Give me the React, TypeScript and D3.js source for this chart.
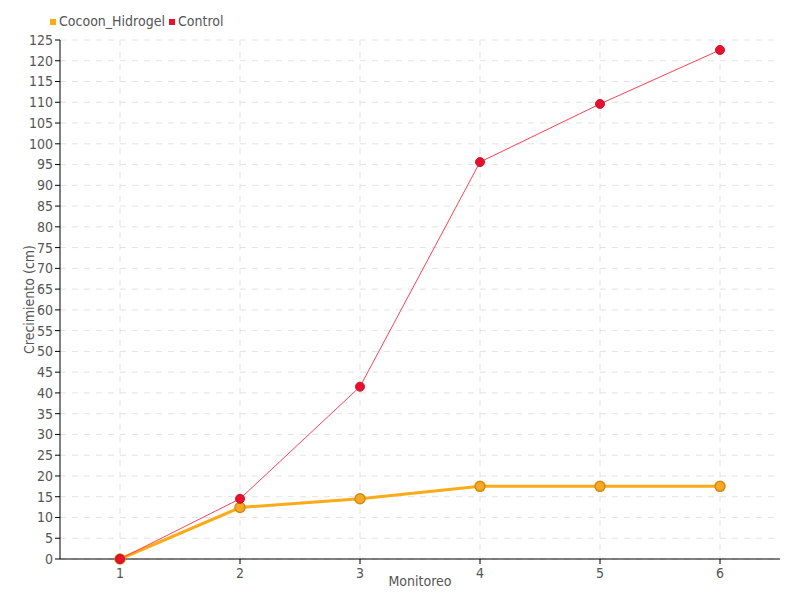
import React from "react";
import * as d3 from "d3";

const categories = [1, 2, 3, 4, 5, 6];
const hidrogel = [0, 12.4, 14.5, 17.5, 17.5, 17.5];
const control = [0, 14.5, 41.5, 95.6, 109.6, 122.6];
const yTicks = d3.range(0, 126, 5);
const seriesNames = ["Cocoon_Hidrogel", "Control"];

const W = 800, H = 600;
const m = { left: 60, right: 20, top: 40, bottom: 41 };
const FONT = "'Liberation Sans Narrow', 'DejaVu Sans Condensed', 'Roboto', sans-serif";

export default function App() {
  const x = d3.scaleLinear().domain([0.5, 6.5]).range([m.left, W - m.right]);
  const y = d3.scaleLinear().domain([0, 125]).range([H - m.bottom, m.top]);
  const line = d3.line<number>().x((_, i) => x(categories[i])).y((d) => y(d));
  const orange = "#fbab18";
  const red = "#e8112d";
  return (
    <svg width={W} height={H} style={{ position: "absolute", left: 0, top: 0, fontFamily: FONT }}>
      <rect width={W} height={H} fill="#fff" />
      {yTicks.map((t) => (
        <line key={"gy" + t} x1={m.left} x2={W - m.right} y1={y(t)} y2={y(t)} stroke="#e2e2e2" strokeDasharray="6,6" />
      ))}
      {categories.map((c) => (
        <line key={"gx" + c} x1={x(c)} x2={x(c)} y1={m.top} y2={H - m.bottom} stroke="#e2e2e2" strokeDasharray="6,6" />
      ))}
      <line x1={m.left} x2={m.left} y1={m.top} y2={H - m.bottom} stroke="#000" />
      <line x1={m.left} x2={W - m.right} y1={H - m.bottom} y2={H - m.bottom} stroke="#000" />
      {yTicks.map((t) => (
        <g key={"ty" + t}>
          <line x1={m.left - 5} x2={m.left} y1={y(t)} y2={y(t)} stroke="#000" />
          <text x={m.left - 7} y={y(t)} dy="0.35em" textAnchor="end" fontSize={14} fill="#555">{t}</text>
        </g>
      ))}
      {categories.map((c) => (
        <g key={"tx" + c}>
          <line x1={x(c)} x2={x(c)} y1={H - m.bottom} y2={H - m.bottom + 5} stroke="#000" />
          <text x={x(c)} y={H - m.bottom + 19} textAnchor="middle" fontSize={14} fill="#555">{c}</text>
        </g>
      ))}
      <text x={(m.left + W - m.right) / 2} y={586} textAnchor="middle" fontSize={14} fill="#555">Monitoreo</text>
      <text transform={`translate(34,${(m.top + H - m.bottom) / 2}) rotate(-90)`} textAnchor="middle" fontSize={14} fill="#555">Crecimiento (cm)</text>

      <path d={line(hidrogel) || ""} fill="none" stroke={orange} strokeWidth={3} />
      <path d={line(control) || ""} fill="none" stroke="#ff4055" strokeWidth={1} />
      {hidrogel.map((v, i) => (
        <circle key={"h" + i} cx={x(categories[i])} cy={y(v)} r={5} fill="#f7a823" stroke="#d18a12" strokeWidth={1.5} />
      ))}
      {control.map((v, i) => (
        <circle key={"c" + i} cx={x(categories[i])} cy={y(v)} r={4.5} fill={red} stroke="#d0102a" strokeWidth={1} />
      ))}

      <rect x={50} y={19} width={6} height={6} fill={orange} />
      <text x={59} y={26} fontSize={14} fill="#555">{seriesNames[0]}</text>
      <rect x={169} y={19} width={6} height={6} fill={red} />
      <text x={178} y={26} fontSize={14} fill="#555">{seriesNames[1]}</text>
    </svg>
  );
}
